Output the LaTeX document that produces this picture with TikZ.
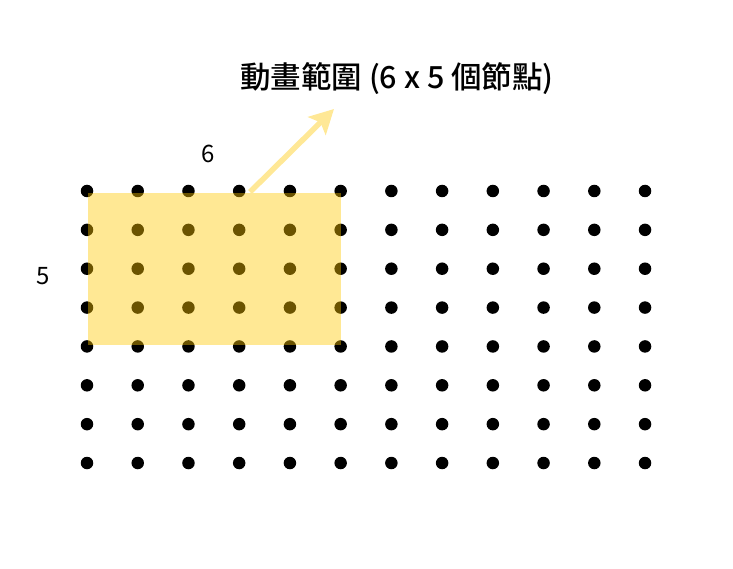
\documentclass[tikz,border=0pt]{standalone}
\usepackage{fontspec}
\setmainfont{Noto Sans CJK TC}
\newfontfamily\titlefont{Noto Sans CJK TC Medium}
\usetikzlibrary{arrows.meta}
\definecolor{areayellow}{RGB}{255,200,0}
\definecolor{arrowyellow}{RGB}{255,232,150}
\begin{document}
\begin{tikzpicture}[x=1pt, y=-1pt,
    dot/.style={circle, fill=black, inner sep=0pt, minimum size=12.5pt},
    label text/.style={font=\fontsize{24}{28}\selectfont}]
    \useasboundingbox (0,0) rectangle (733,569);

    % grid of nodes
    \foreach \i in {1,...,12}
        \foreach \j in {1,...,8}
            \node[dot] (n-\i-\j) at ({87+50.73*(\i-1)}, {191+38.86*(\j-1)}) {};

    % animated area
    \fill[areayellow, opacity=0.42] ([shift={(1,2)}]n-1-1.center) rectangle ([shift={(0,-1)}]n-6-5.center);

    % sizes
    \node[label text] (cols) at (208,154) {6};
    \node[label text] (rows) at (43,276) {5};

    % title and arrow
    \node[font=\fontsize{30.5}{36}\selectfont\titlefont] (title) at (397,79) {動畫範圍 (6 x 5 個節點)};
    \coordinate (arrow start) at (250,192);
    \coordinate (arrow end) at (334,109);
    \draw[arrowyellow, line width=5.5pt, -{Stealth[length=24pt, width=25pt, inset=5pt]}] (arrow start) -- (arrow end);
\end{tikzpicture}
\end{document}
